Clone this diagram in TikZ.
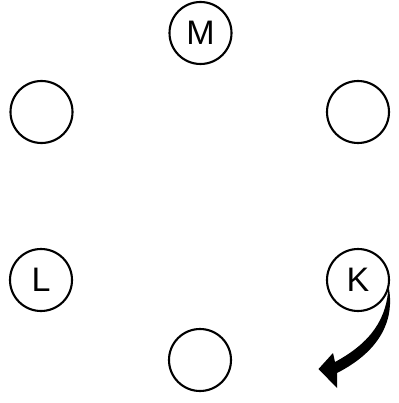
\documentclass[tikz,border=0pt]{standalone}
\usepackage{fontspec}
\setmainfont{Liberation Sans}
\begin{document}
\begin{tikzpicture}[x=1pt,y=-1pt,
  ring/.style={circle,draw=black,line width=2.1pt,minimum size=62pt,inner sep=0pt,font=\fontsize{34}{34}\selectfont}]
\useasboundingbox (0,0) rectangle (398,403);
\node[ring] (m) at (200.5,33) {M};
\node[ring] (tl) at (41.5,112) {};
\node[ring] (tr) at (358,112) {};
\node[ring] (l) at (41,280) {L};
\node[ring] (k) at (358,280) {K};
\node[ring] (b) at (200,360) {};
\fill (388.5,286) .. controls (395,318) and (382,350) .. (337,373)
  -- (337,388) -- (318.5,369) -- (333,353) -- (335,362)
  .. controls (372,342) and (387,318) .. (388.5,286) -- cycle;
\end{tikzpicture}
\end{document}
